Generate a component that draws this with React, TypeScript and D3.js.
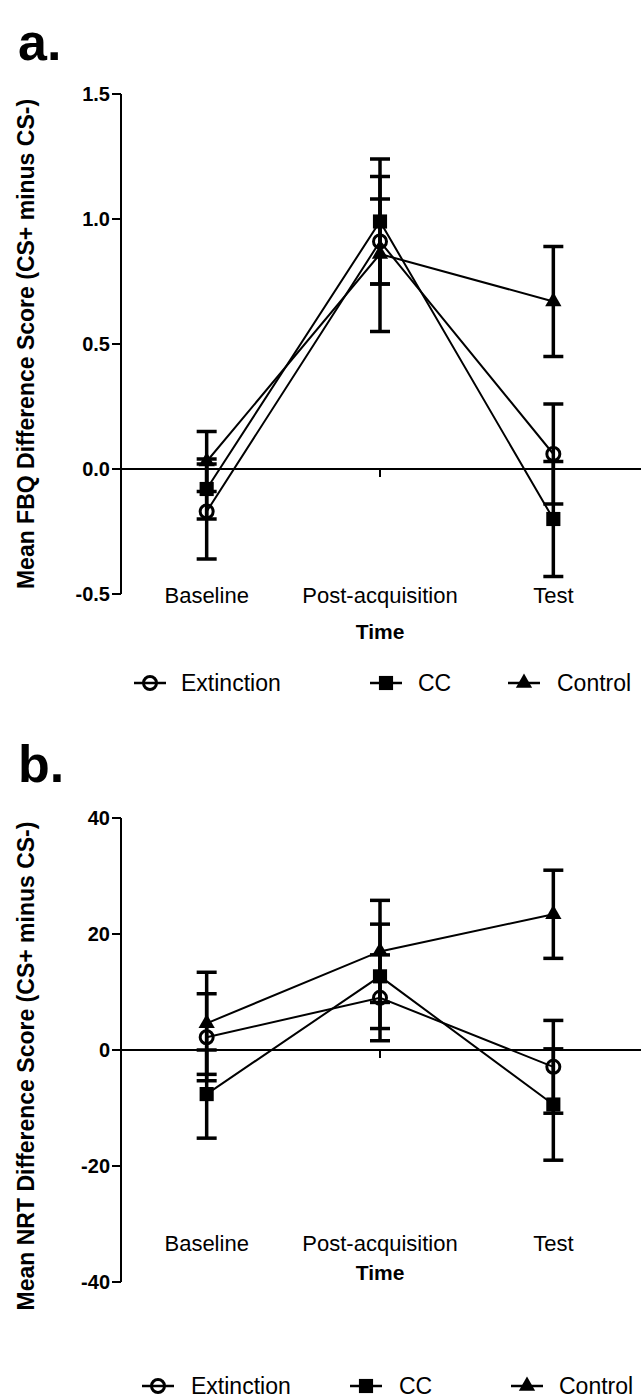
import React from "react";
import * as d3 from "d3";

const categories = ["Baseline", "Post-acquisition", "Test"];
const seriesNames = ["Extinction", "CC", "Control"];

// Panel a: FBQ
const fbqExtinction = [-0.17, 0.91, 0.06];
const fbqExtinctionErr = [0.19, 0.17, 0.2];
const fbqCC = [-0.08, 0.99, -0.2];
const fbqCCErr = [0.12, 0.25, 0.23];
const fbqControl = [0.03, 0.86, 0.67];
const fbqControlErr = [0.12, 0.31, 0.22];
const fbqTicks = [-0.5, 0, 0.5, 1.0, 1.5];

// Panel b: NRT
const nrtExtinction = [2.2, 9.0, -2.9];
const nrtExtinctionErr = [7.5, 7.4, 8.0];
const nrtCC = [-7.6, 12.7, -9.4];
const nrtCCErr = [7.6, 9.0, 9.6];
const nrtControl = [4.6, 17.0, 23.4];
const nrtControlErr = [8.8, 8.8, 7.6];
const nrtTicks = [-40, -20, 0, 20, 40];

const FONT = "'Liberation Sans', Arial, Helvetica, sans-serif";

function Txt({ x, y, size, weight = "normal", anchor = "start", rotate = false, children }: any) {
  const tf = rotate ? `translate(${x},${y}) rotate(-90)` : `translate(${x},${y})`;
  return (
    <text transform={tf} fontFamily={FONT} fontSize={size} fontWeight={weight} textAnchor={anchor} fill="#000">
      {children}
    </text>
  );
}

function Marker({ kind, cx, cy }: { kind: number; cx: number; cy: number }) {
  if (kind === 0) {
    return <circle cx={cx} cy={cy} r={6.5} fill="none" stroke="#000" strokeWidth={3} />;
  }
  const sym = d3
    .symbol()
    .type(kind === 1 ? d3.symbolSquare : d3.symbolTriangle)
    .size(kind === 1 ? 200 : 115)();
  return <path d={sym || ""} transform={`translate(${cx},${cy})`} fill="#000" />;
}

const hyphenate = (f: (n: number) => string) => (n: number) => f(n).replace("\u2212", "-");

function Panel(p: any) {
  const x = d3.scalePoint<string>().domain(categories).range([120, 640]).padding(0.5);
  const y = d3.scaleLinear().domain(p.yDomain).range([p.yBottom, p.yTop]);
  const line = d3
    .line<number>()
    .x((_, i) => x(categories[i]) as number)
    .y((d) => y(d));
  const y0 = y(0);
  return (
    <g>
      <Txt x={18} y={p.letterY} size={52} weight="bold">{p.letter}</Txt>
      <Txt x={34} y={p.titleCY} size={23} weight="bold" anchor="middle" rotate>{p.title}</Txt>
      {/* y axis */}
      <line x1={121} x2={121} y1={p.yTop} y2={p.yBottom} stroke="#000" strokeWidth={2} />
      {p.ticks.map((t: number) => (
        <g key={t}>
          <line x1={112} x2={121} y1={y(t)} y2={y(t)} stroke="#000" strokeWidth={2} />
          <Txt x={110} y={y(t) + 7} size={20} weight="bold" anchor="end">{p.tickFmt(t)}</Txt>
        </g>
      ))}
      {/* zero line */}
      <line x1={121} x2={641} y1={y0} y2={y0} stroke="#000" strokeWidth={2} />
      {categories.map((c) => (
        <g key={c}>
          <line x1={x(c)} x2={x(c)} y1={y0} y2={y0 + 8} stroke="#000" strokeWidth={2} />
          <Txt x={x(c)} y={p.catY} size={22} anchor="middle">{c}</Txt>
        </g>
      ))}
      <Txt x={380} y={p.timeY} size={21} weight="bold" anchor="middle">Time</Txt>
      {/* series lines */}
      {p.series.map((s: number[], k: number) => (
        <path key={"l" + k} d={line(s) || ""} fill="none" stroke="#000" strokeWidth={2} />
      ))}
      {/* error bars */}
      {p.series.map((s: number[], k: number) =>
        s.map((v, i) => {
          const cx = x(categories[i]) as number;
          const e = p.errs[k][i];
          return (
            <g key={"e" + k + i}>
              <line x1={cx} x2={cx} y1={y(v - e)} y2={y(v + e)} stroke="#000" strokeWidth={3.5} />
              <line x1={cx - 10} x2={cx + 10} y1={y(v + e)} y2={y(v + e)} stroke="#000" strokeWidth={3.5} />
              <line x1={cx - 10} x2={cx + 10} y1={y(v - e)} y2={y(v - e)} stroke="#000" strokeWidth={3.5} />
            </g>
          );
        })
      )}
      {/* markers */}
      {p.series.map((s: number[], k: number) =>
        s.map((v, i) => <Marker key={"m" + k + i} kind={k} cx={x(categories[i]) as number} cy={y(v)} />)
      )}
      {/* legend */}
      {seriesNames.map((n, k) => (
        <g key={n}>
          <line x1={p.legendSym[k] - 16} x2={p.legendSym[k] + 16} y1={p.legendY} y2={p.legendY} stroke="#000" strokeWidth={2.5} />
          <Marker kind={k} cx={p.legendSym[k]} cy={p.legendY} />
          <Txt x={p.legendTxt[k]} y={p.legendY + p.legendSize * 0.36} size={p.legendSize} anchor="start">{n}</Txt>
        </g>
      ))}
    </g>
  );
}

export default function App() {
  return (
    <svg width={641} height={1399} viewBox="0 0 641 1399" style={{ position: "absolute", left: 0, top: 0, background: "#fff" }}>
      <rect width={641} height={1399} fill="#fff" />
      <Panel
        letter="a."
        letterY={60}
        yDomain={[-0.5, 1.5]}
        yTop={94}
        yBottom={594}
        ticks={fbqTicks}
        tickFmt={hyphenate(d3.format(".1f"))}
        series={[fbqExtinction, fbqCC, fbqControl]}
        errs={[fbqExtinctionErr, fbqCCErr, fbqControlErr]}
        title="Mean FBQ Difference Score (CS+ minus CS-)"
        titleCY={344}
        catY={603}
        timeY={639}
        legendY={683}
        legendSize={23}
        legendSym={[150, 386, 524]}
        legendTxt={[181, 418, 557]}
      />
      <Panel
        letter="b."
        letterY={782}
        yDomain={[-40, 40]}
        yTop={818}
        yBottom={1282}
        ticks={nrtTicks}
        tickFmt={hyphenate(d3.format("d"))}
        series={[nrtExtinction, nrtCC, nrtControl]}
        errs={[nrtExtinctionErr, nrtCCErr, nrtControlErr]}
        title="Mean NRT Difference Score (CS+ minus CS-)"
        titleCY={1066}
        catY={1251}
        timeY={1280}
        legendY={1386}
        legendSize={23}
        legendSym={[158, 366, 527]}
        legendTxt={[191, 399, 559]}
      />
    </svg>
  );
}
